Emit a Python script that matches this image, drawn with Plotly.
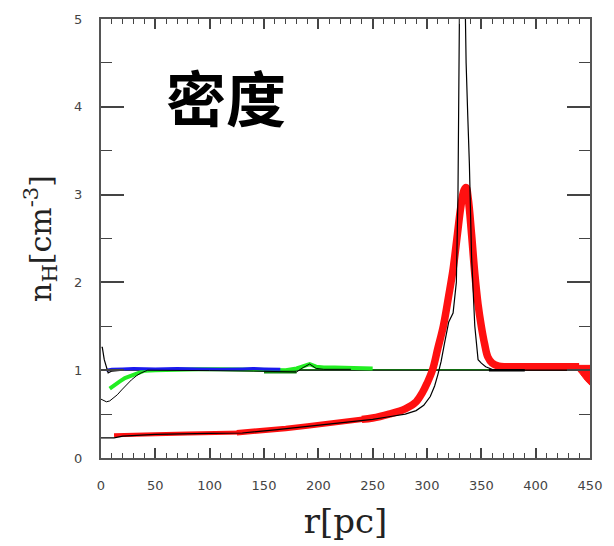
import plotly.graph_objects as go

# ---- data ----
black_const_x = [0, 450]
black_const_y = [1.0, 1.0]

green_const_x = [40, 450]
green_const_y = [1.006, 1.006]

black_a_x = [0.5, 1.2, 3, 5, 6.6, 10, 20]
black_a_y = [1.26, 1.26, 1.12, 1.02, 0.97, 0.99, 1.0]

blue_x = [5, 10, 20, 30, 50, 70, 90, 110, 130, 140, 150, 160, 165]
blue_y = [1.0, 1.01, 1.015, 1.02, 1.015, 1.02, 1.015, 1.01, 1.015, 1.02, 1.015, 1.01, 1.01]

green_x = [8, 12, 17, 22, 28, 34, 40, 50, 70, 90, 110, 130, 150, 170, 180, 186, 192, 198, 205, 215, 230, 250]
green_y = [0.79, 0.82, 0.87, 0.91, 0.94, 0.97, 0.995, 1.0, 1.01, 1.01, 1.01, 1.01, 1.0, 1.0, 1.02, 1.05, 1.07, 1.04, 1.03, 1.03, 1.03, 1.02]

dkgreen_x = [150, 180]
dkgreen_y = [0.98, 0.98]

black_b_x = [0, 2, 5, 8, 11, 15, 19, 23, 28, 33, 37, 43, 60, 100, 140, 180, 186, 192, 198, 205, 230]
black_b_y = [0.67, 0.66, 0.64, 0.65, 0.68, 0.72, 0.775, 0.83, 0.89, 0.94, 0.97, 1.0, 1.0, 0.995, 0.99, 0.98, 1.03, 1.07, 1.02, 1.01, 1.01]

red_low_x = [12, 20, 30, 50, 80, 110, 130]
red_low_y = [0.26, 0.26, 0.265, 0.27, 0.28, 0.285, 0.29]

red_mid_x = [125, 150, 170, 190, 210, 230, 250]
red_mid_y = [0.288, 0.31, 0.335, 0.365, 0.39, 0.425, 0.455]

red_high_x = [240, 250, 265, 280, 290, 296, 300, 305, 310, 315, 320, 324, 328, 331, 334, 336, 338, 341, 344,
              347, 350, 353, 356, 360, 366, 375, 400, 430, 440]
red_high_y = [0.44, 0.455, 0.5, 0.56, 0.64, 0.75, 0.85, 1.0, 1.25, 1.5, 1.85, 2.15, 2.55, 2.85, 3.05, 3.08, 2.95,
              2.55, 2.1, 1.75, 1.5, 1.3, 1.15, 1.08, 1.045, 1.04, 1.04, 1.04, 1.04]

red_tail_x = [436, 450, 450, 446, 441, 437]
red_tail_y = [1.055, 1.055, 0.83, 0.88, 0.96, 1.02]

black_c_x = [0, 12, 20, 50, 100, 130, 160, 200, 230, 250, 265, 280, 290, 297, 303, 307, 310, 313, 316, 320,
             324, 327, 328.5, 330, 335, 336, 337.5, 339, 341, 344, 347, 350, 354, 358, 362, 450]
black_c_y = [0.23, 0.23, 0.25, 0.27, 0.28, 0.285, 0.32, 0.37, 0.415, 0.44, 0.47, 0.5, 0.54, 0.6, 0.7, 0.82,
             0.95, 1.1, 1.3, 1.55, 1.65, 2.0, 3.0, 5.3, 5.3, 4.5, 3.9, 3.35, 2.3, 1.5, 1.12, 1.08, 1.04, 1.02,
             1.0, 1.0]

black_thick_x = [357, 390]
black_thick_y = [1.0, 1.0]

x_ticks = [0, 50, 100, 150, 200, 250, 300, 350, 400, 450]
y_ticks = [0, 1, 2, 3, 4, 5]

# ---- figure ----
fig = go.Figure()

def line(x, y, color, width, shape="linear", clip=True):
    fig.add_trace(go.Scatter(x=x, y=y, mode="lines", line=dict(color=color, width=width, shape=shape),
                             showlegend=False, hoverinfo="skip", cliponaxis=clip))

line(green_const_x, green_const_y, "#22dd22", 1.5)
line(black_const_x, black_const_y, "#000000", 1.2)
line(green_x, green_y, "#22ee22", 4)
line(dkgreen_x, dkgreen_y, "#118811", 3)
line(blue_x, blue_y, "#1a1aee", 3)
line(red_low_x, red_low_y, "#ff1010", 4)
line(red_mid_x, red_mid_y, "#ff1010", 5.5)
line(red_high_x, red_high_y, "#ff1010", 7.5, shape="spline")
fig.add_trace(go.Scatter(x=red_tail_x, y=red_tail_y, mode="lines", fill="toself",
                         fillcolor="#ff1010", line=dict(color="#ff1010", width=1),
                         showlegend=False, hoverinfo="skip"))
line(black_a_x, black_a_y, "#000000", 1.2)
line(black_b_x, black_b_y, "#000000", 1)
line(black_c_x, black_c_y, "#000000", 1.2, clip=False)
line(black_thick_x, black_thick_y, "#000000", 2.5)

axis_common = dict(
    showgrid=False, zeroline=False, showline=True, linecolor="#555555", linewidth=2,
    mirror="ticks", ticks="inside", tickcolor="#444444", tickwidth=1.5,
    tickfont=dict(family="DejaVu Sans", size=13, color="#444444"),
)

fig.update_xaxes(range=[0, 450], tickvals=x_ticks, ticklen=10,
                 minor=dict(dtick=10, ticks="inside", ticklen=5, tickcolor="#444444", tickwidth=1.2),
                 ticklabelstandoff=14,
                 title=dict(text="r[pc]", font=dict(family="DejaVu Serif", size=34, color="#222222"),
                            standoff=18),
                 **axis_common)
fig.update_yaxes(range=[0, 5], tickvals=y_ticks, ticklen=23,
                 minor=dict(dtick=0.5, ticks="inside", ticklen=11, tickcolor="#444444", tickwidth=1.2),
                 ticklabelstandoff=14,
                 title=dict(text="n<sub>H</sub>[cm<sup>-3</sup>]",
                            font=dict(family="DejaVu Serif", size=30, color="#222222"), standoff=14),
                 **axis_common)

plot_l, plot_t, plot_w, plot_h = 101, 14, 498, 445
fig.add_annotation(x=(228 - plot_l) / plot_w, y=1 - (92 - plot_t) / plot_h,
                   xref="paper", yref="paper", xanchor="center", yanchor="middle",
                   text="<b>密度</b>", showarrow=False,
                   font=dict(family="Noto Sans CJK SC", size=60, color="#000000"))

fig.update_layout(width=614, height=546, margin=dict(l=101, r=15, t=14, b=87),
                  paper_bgcolor="white", plot_bgcolor="white")

fig.write_html("out.html")
